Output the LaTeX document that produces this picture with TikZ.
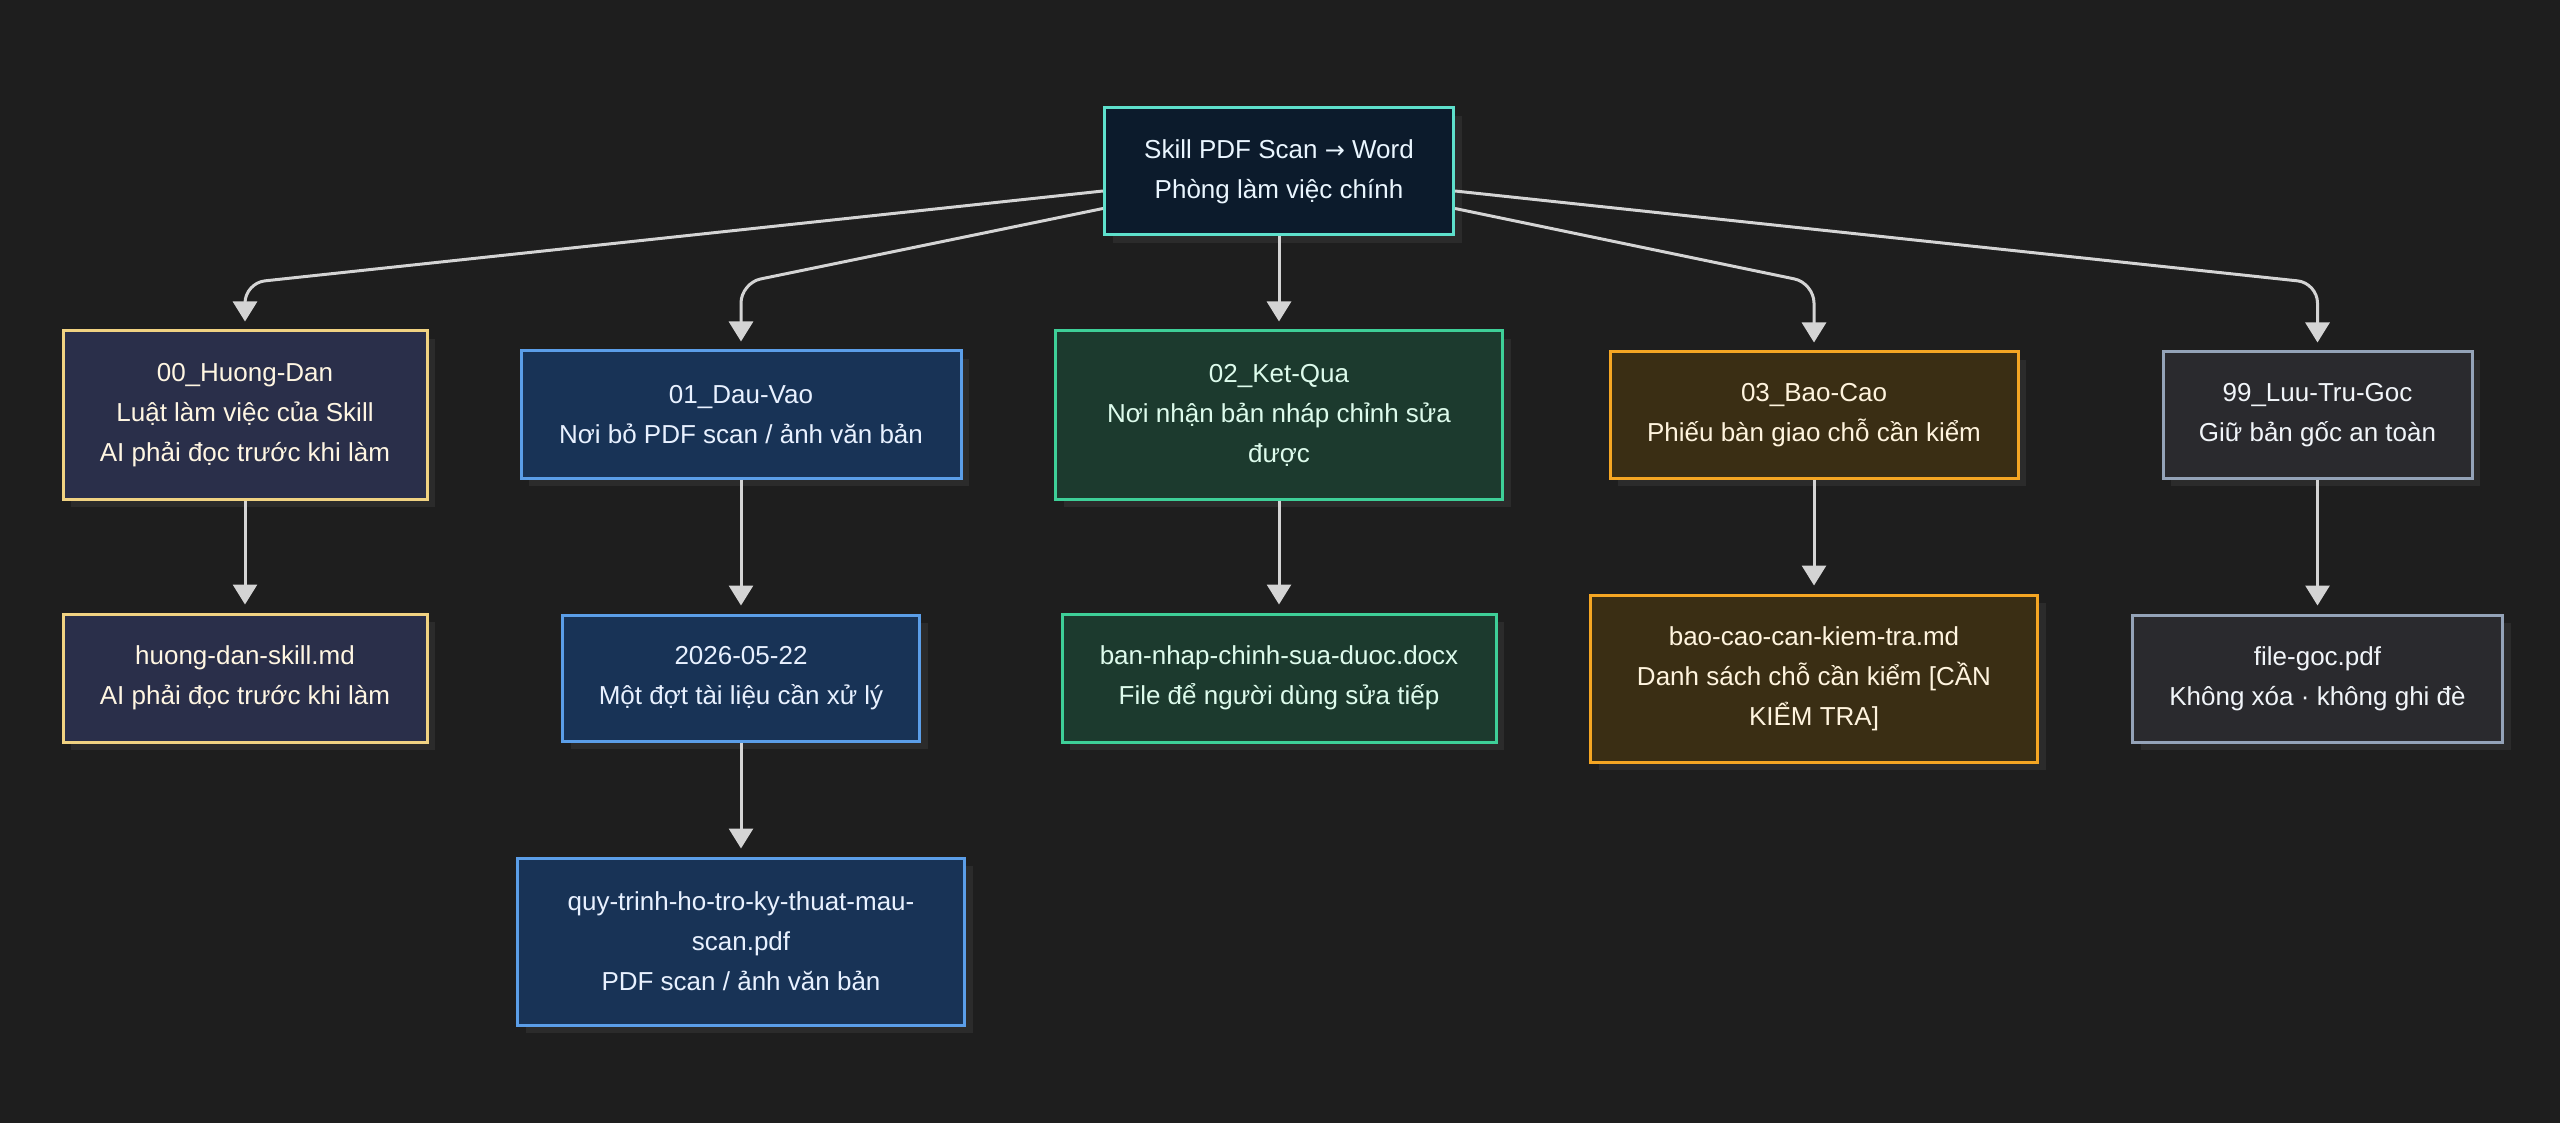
\documentclass[tikz,border=0pt]{standalone}
\usepackage{fontspec}
\setmainfont{Liberation Sans}
\newfontfamily\arrowfont{DejaVu Sans}
\usetikzlibrary{arrows.meta,shadows,calc}
\definecolor{bgc}{HTML}{1E1E1E}
\definecolor{shc}{HTML}{2B2B2B}
\definecolor{linec}{HTML}{D4D4D4}
\definecolor{rootfill}{HTML}{0C1B2C}
\definecolor{rootdraw}{HTML}{5EE0CC}
\definecolor{roottext}{HTML}{EAF6FF}
\definecolor{hdfill}{HTML}{2A2F4A}
\definecolor{hddraw}{HTML}{F0D282}
\definecolor{hdtext}{HTML}{FFF6E2}
\definecolor{dvfill}{HTML}{183356}
\definecolor{dvdraw}{HTML}{5B9EE8}
\definecolor{dvtext}{HTML}{E8F1FF}
\definecolor{kqfill}{HTML}{1C3A2E}
\definecolor{kqdraw}{HTML}{3ECF98}
\definecolor{kqtext}{HTML}{DDFBEC}
\definecolor{bcfill}{HTML}{3A2E14}
\definecolor{bcdraw}{HTML}{F5A623}
\definecolor{bctext}{HTML}{FFF4DE}
\definecolor{ltfill}{HTML}{2A2A2E}
\definecolor{ltdraw}{HTML}{94A3B8}
\definecolor{lttext}{HTML}{F1F5F9}
\tikzset{
  box/.style={rectangle, line width=3pt, inner sep=0pt, align=center,
    font=\fontsize{26}{40}\selectfont,
    general shadow={fill=shc, shadow xshift=8pt, shadow yshift=-8pt}},
  rootbox/.style={box, fill=rootfill, draw=rootdraw, text=roottext},
  hdbox/.style={box, fill=hdfill, draw=hddraw, text=hdtext},
  dvbox/.style={box, fill=dvfill, draw=dvdraw, text=dvtext},
  kqbox/.style={box, fill=kqfill, draw=kqdraw, text=kqtext},
  bcbox/.style={box, fill=bcfill, draw=bcdraw, text=bctext},
  ltbox/.style={box, fill=ltfill, draw=ltdraw, text=lttext},
  conn/.style={draw=linec, line width=3pt, rounded corners=20pt,
    -{Triangle[width=24pt,length=20pt]}, shorten >=8pt}
}
\begin{document}
\begin{tikzpicture}[x=1pt,y=-1pt]
\fill[bgc] (0,0) rectangle (2560,1123);
\useasboundingbox (0,0) rectangle (2560,1123);
\coordinate (bendy) at (0,283);

\node[rootbox, minimum width=349pt, minimum height=127pt] (root) at (1279,171.5)
  {Skill PDF Scan {\arrowfont\fontsize{24}{40}\selectfont →} Word\\Phòng làm việc chính};

\node[hdbox, minimum width=364pt, minimum height=168pt] (hd) at (245,415)
  {00\_Huong-Dan\\Luật làm việc của Skill\\AI phải đọc trước khi làm};
\node[hdbox, minimum width=364pt, minimum height=128pt] (hdf) at (245,678)
  {huong-dan-skill.md\\AI phải đọc trước khi làm};

\node[dvbox, minimum width=440pt, minimum height=127pt] (dv) at (741,414.5)
  {01\_Dau-Vao\\Nơi bỏ PDF scan / ảnh văn bản};
\node[dvbox, minimum width=357pt, minimum height=126pt] (dvd) at (741,678)
  {2026-05-22\\Một đợt tài liệu cần xử lý};
\node[dvbox, minimum width=447pt, minimum height=167pt] (dvf) at (741,941.5)
  {quy-trinh-ho-tro-ky-thuat-mau-\\scan.pdf\\PDF scan / ảnh văn bản};

\node[kqbox, minimum width=447pt, minimum height=168pt] (kq) at (1279,415)
  {02\_Ket-Qua\\Nơi nhận bản nháp chỉnh sửa\\được};
\node[kqbox, minimum width=434pt, minimum height=128pt] (kqf) at (1279,678)
  {ban-nhap-chinh-sua-duoc.docx\\File để người dùng sửa tiếp};

\node[bcbox, minimum width=408pt, minimum height=126pt] (bc) at (1814,415)
  {03\_Bao-Cao\\Phiếu bàn giao chỗ cần kiểm};
\node[bcbox, minimum width=447pt, minimum height=167pt] (bcf) at (1814,678.5)
  {bao-cao-can-kiem-tra.md\\Danh sách chỗ cần kiểm [CẦN\\KIỂM TRA]};

\node[ltbox, minimum width=309pt, minimum height=126pt] (lt) at (2317.5,415)
  {99\_Luu-Tru-Goc\\Giữ bản gốc an toàn};
\node[ltbox, minimum width=370pt, minimum height=127pt] (ltf) at (2317.5,678.5)
  {file-goc.pdf\\Không xóa · không ghi đè};

\coordinate (rl1) at ($(root.west)+(0,19.5)$);
\coordinate (rl2) at ($(root.west)+(0,37)$);
\coordinate (rr1) at ($(root.east)+(0,19.5)$);
\coordinate (rr2) at ($(root.east)+(0,37)$);

\draw[conn] (rl1) -- (hd.north |- bendy) -- (hd.north);
\draw[conn] (rl2) -- (dv.north |- bendy) -- (dv.north);
\draw[conn] (root.south) -- (kq.north);
\draw[conn] (rr2) -- (bc.north |- bendy) -- (bc.north);
\draw[conn] (rr1) -- (lt.north |- bendy) -- (lt.north);

\draw[conn] (hd.south) -- (hdf.north);
\draw[conn] (dv.south) -- (dvd.north);
\draw[conn] (dvd.south) -- (dvf.north);
\draw[conn] (kq.south) -- (kqf.north);
\draw[conn] (bc.south) -- (bcf.north);
\draw[conn] (lt.south) -- (ltf.north);
\end{tikzpicture}
\end{document}
